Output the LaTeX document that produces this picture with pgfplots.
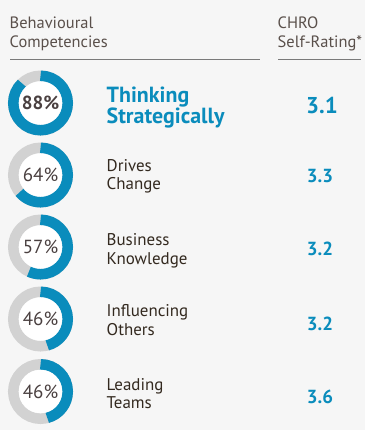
\documentclass[border=0pt]{standalone}
\usepackage{fontspec}
\setmainfont{PT Sans}
\usepackage{pgfplots}
\usepackage{pgfplotstable}
\pgfplotsset{compat=1.18}
\definecolor{cblue}{HTML}{0A8CBC}
\definecolor{cgray}{HTML}{D2D2D2}
\definecolor{bg}{HTML}{F6F6F6}
\definecolor{txt}{HTML}{33291F}
\definecolor{pcttxt}{HTML}{4A4040}
\definecolor{hdr}{HTML}{5A504B}
\definecolor{rulec}{HTML}{7A7A7A}

\pgfplotstableread{
x y pct
40.5 103 88
40.5 175 64
40.5 247 57
40.5 319 46
40.5 391.5 46
}\donuts
\pgfplotstableread{
x y rating
322 105.5 3.1
320 176 3.3
320 248.5 3.2
320 323.5 3.2
320 396.5 3.6
}\ratings

\begin{document}
\begin{tikzpicture}
\begin{axis}[
 scale only axis, width=365bp, height=430bp,
 xmin=0,xmax=365,ymin=0,ymax=430, y dir=reverse,
 hide axis, clip=false]
\fill[bg] (axis cs:0,0) rectangle (axis cs:365,430);
% header
\begin{scope}[every node/.style={inner sep=0pt, anchor=base west, text=hdr, font=\fontsize{16.5}{16.5}\selectfont}]
\node at (axis cs:9.5,28) {Behavioural};
\node at (axis cs:9.5,47) {Competencies};
\node at (axis cs:277.5,28) {CHRO};
\node at (axis cs:277.5,47) {Self-Rating*};
\end{scope}
\draw[rulec, line width=1.2bp] (axis cs:10,59.5) -- (axis cs:260,59.5);
\draw[rulec, line width=1.2bp] (axis cs:278,59.5) -- (axis cs:361,59.5);
% donuts
\addplot[scatter, only marks, mark=*, mark size=0pt, mark options={draw=none, fill=none},
 point meta=explicit symbolic,
 scatter/@pre marker code/.code={
   \draw[cgray, line width=11bp] (0,0) circle[radius=27bp];
   \draw[cblue, line width=11bp] (90:27bp) arc[start angle=90, end angle={90-3.6*\pgfplotspointmeta}, radius=27bp];
   \fill[white] (0,0) circle[radius=21.6bp];
 },
 scatter/@post marker code/.code={}
] table[x=x,y=y,meta=pct]{\donuts};
% percent labels
\addplot[only marks, mark=*, mark size=0pt, mark options={draw=none,fill=none},
 point meta=explicit symbolic, nodes near coords={\pgfplotspointmeta\%},
 every node near coord/.append style={anchor=center, inner sep=0pt, text=pcttxt, font=\bfseries\fontsize{19}{19}\selectfont},
 skip coords between index={1}{5}] table[x=x,y=y,meta=pct]{\donuts};
\addplot[only marks, mark=*, mark size=0pt, mark options={draw=none,fill=none},
 point meta=explicit symbolic, nodes near coords={\pgfplotspointmeta\%},
 every node near coord/.append style={anchor=center, inner sep=0pt, text=pcttxt, font=\fontsize{19}{19}\selectfont},
 skip coords between index={0}{1}] table[x=x,y=y,meta=pct]{\donuts};
% ratings
\addplot[only marks, mark=*, mark size=0pt, mark options={draw=none,fill=none},
 point meta=explicit symbolic, nodes near coords,
 every node near coord/.append style={anchor=center, inner sep=0pt, text=cblue, font=\bfseries\fontsize{23}{23}\selectfont},
 skip coords between index={1}{5}] table[x=x,y=y,meta=rating]{\ratings};
\addplot[only marks, mark=*, mark size=0pt, mark options={draw=none,fill=none},
 point meta=explicit symbolic, nodes near coords,
 every node near coord/.append style={anchor=center, inner sep=0pt, text=cblue, font=\bfseries\fontsize{19}{19}\selectfont},
 skip coords between index={0}{1}] table[x=x,y=y,meta=rating]{\ratings};
% competency labels
\begin{scope}[every node/.style={inner sep=0pt, anchor=base west, text=cblue, font=\bfseries\fontsize{22}{22}\selectfont}]
\node at (axis cs:106.5,102) {Thinking};
\node at (axis cs:106.5,123) {Strategically};
\end{scope}
\begin{scope}[every node/.style={inner sep=0pt, anchor=base west, text=txt, font=\fontsize{17}{17}\selectfont}]
\node at (axis cs:106.5,171) {Drives};
\node at (axis cs:106.5,189.5) {Change};
\node at (axis cs:106.5,245.5) {Business};
\node at (axis cs:106.5,264) {Knowledge};
\node at (axis cs:106.5,316.5) {Influencing};
\node at (axis cs:106.5,335) {Others};
\node at (axis cs:106.5,390) {Leading};
\node at (axis cs:106.5,408) {Teams};
\end{scope}
\end{axis}
\end{tikzpicture}
\end{document}
